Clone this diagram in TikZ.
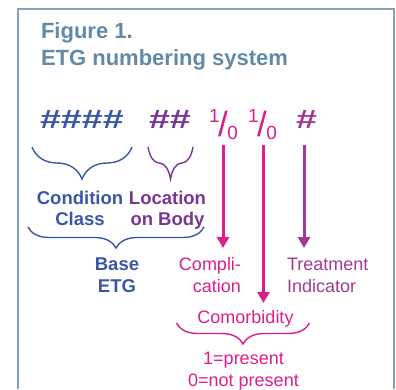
\documentclass[tikz,border=0pt]{standalone}
\usepackage{fontspec}
\setmainfont{Liberation Sans}
\usetikzlibrary{arrows.meta,decorations.pathreplacing}
\definecolor{framecol}{RGB}{132,163,184}
\definecolor{titlecol}{RGB}{98,138,166}
\definecolor{ccblue}{RGB}{58,87,167}
\definecolor{locpurple}{RGB}{122,54,150}
\definecolor{magcol}{RGB}{218,30,140}
\definecolor{plumcol}{RGB}{160,58,146}
\tikzset{
  txt/.style={inner sep=0pt, outer sep=0pt},
  titletxt/.style={txt, anchor=base west, text=titlecol, font=\fontsize{22}{27}\selectfont\bfseries},
  hashes/.style={txt, anchor=base west, font=\fontsize{26.5}{26.5}\selectfont\bfseries},
  boldlbl/.style={txt, anchor=base, align=center, font=\fontsize{18.5}{21.5}\selectfont\bfseries},
  plainlbl/.style={txt, anchor=base, font=\fontsize{18}{22}\selectfont},
  brc/.style={decorate, decoration={brace, mirror, amplitude=#1}, line width=1.4pt},
  arr/.style={line width=3pt, -{Triangle[length=11pt,width=12pt]}},
}
\newcommand{\widehash}[1]{\scalebox{1.42}[1]{#1}}
\newcommand{\onezero}{\raisebox{14pt}{\fontsize{19}{19}\selectfont 1}\kern-1.5pt{\fontsize{35}{35}\selectfont /}\kern-0.5pt\raisebox{-3pt}{\fontsize{19}{19}\selectfont 0}}
\begin{document}
\begin{tikzpicture}[x=1pt,y=-1pt]
\useasboundingbox (0,0) rectangle (396,389);
% frame
\draw[framecol, line width=1.5pt] (18,389) -- (18,9) -- (394,9) -- (394,389);
% title
\node[titletxt] (t1) at (41,38) {Figure 1.};
\node[titletxt] (t2) at (41,65) {ETG numbering system};
% code
\node[hashes, text=ccblue] (h4) at (40,128) {\widehash{\#\#\#\#}};
\node[hashes, text=locpurple] (h2) at (149,128) {\widehash{\#\#}};
\node[txt, anchor=base west, text=magcol] (f1) at (209,136) {\onezero};
\node[txt, anchor=base west, text=magcol] (f2) at (248,136) {\onezero};
\node[hashes, text=plumcol] (h1) at (296,128) {\widehash{\#}};
% braces
\draw[brc=32, ccblue] (32,147) -- (132,147);
\draw[brc=32, locpurple] (148,147) -- (193,147);
\draw[brc=21, ccblue] (28,227) -- (204,227);
\draw[brc=21, magcol] (176.5,323) -- (309.5,323);
% labels (anchor = baseline of the last line)
\node[boldlbl, text=ccblue] (cc) at (80,225.5) {Condition\\Class};
\node[boldlbl, text=locpurple] (lob) at (167.5,225.5) {Location\\on Body};
\node[boldlbl, text=ccblue] (base) at (117,292) {Base\\ETG};
\node[plainlbl, anchor=base east, align=right, text=magcol] (comp) at (241,292) {Compli-\\cation};
\node[plainlbl, anchor=base west, align=left, text=plumcol] (treat) at (287,292) {Treatment\\Indicator};
\node[plainlbl, text=magcol] (comorb) at (245.5,323.5) {Comorbidity};
\node[plainlbl, align=center, text=magcol] (pres) at (243.5,386.5) {1=present\\0=not present};
% arrows
\coordinate (a1s) at (223,145);
\coordinate (a1e) at (223,248);
\coordinate (a2s) at (263.5,145);
\coordinate (a2e) at (263.5,303);
\coordinate (a3s) at (304,145);
\coordinate (a3e) at (304,248);
\draw[arr, magcol] (a1s) -- (a1e);
\draw[arr, magcol] (a2s) -- (a2e);
\draw[arr, plumcol] (a3s) -- (a3e);
\end{tikzpicture}
\end{document}
